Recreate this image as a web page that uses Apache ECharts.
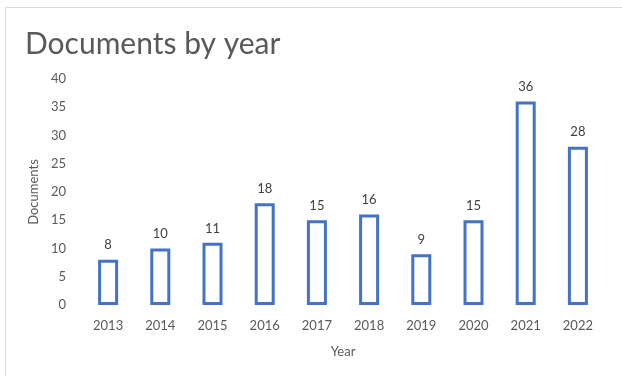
<!DOCTYPE html>
<html>
<head>
<meta charset="utf-8">
<script src="https://cdn.jsdelivr.net/npm/echarts@6/dist/echarts.min.js"></script>
<style>
    html, body { margin: 0; padding: 0; background: #fff; }
    #chart { width: 622px; height: 376px; }
</style>
</head>
<body>
<div id="chart"></div>
<script>
// data
const years = ["2013", "2014", "2015", "2016", "2017", "2018", "2019", "2020", "2021", "2022"];
const documents = [8, 10, 11, 18, 15, 16, 9, 15, 36, 28];

const font = "Lato, 'Open Sans', sans-serif";
const chart = echarts.init(document.getElementById("chart"));

const option = {
    backgroundColor: "#fff",
    animation: false,
    textStyle: { fontFamily: font },
    title: {
        text: "Documents by year",
        left: 20,
        top: 24,
        textStyle: { fontFamily: font, fontSize: 30, fontWeight: "normal", color: "#595959" }
    },
    graphic: [
        { type: "line", shape: { x1: 5.5, y1: 7.5, x2: 622, y2: 7.5 }, style: { stroke: "#d9d9d9", lineWidth: 1 } },
        { type: "line", shape: { x1: 5.5, y1: 7.5, x2: 5.5, y2: 376 }, style: { stroke: "#d9d9d9", lineWidth: 1 } }
    ],
    grid: { left: 82, right: 18, top: 79, bottom: 71 },
    xAxis: {
        type: "category",
        data: years,
        name: "Year",
        nameLocation: "middle",
        nameGap: 40,
        nameTextStyle: { fontSize: 13, color: "#595959", fontFamily: font },
        axisLine: { show: false },
        axisTick: { show: false },
        axisLabel: { fontSize: 13, color: "#595959", margin: 14, fontFamily: font }
    },
    yAxis: {
        type: "value",
        min: 0,
        max: 40,
        interval: 5,
        name: "Documents",
        nameLocation: "middle",
        nameGap: 39,
        nameRotate: 90,
        nameTextStyle: { fontSize: 13, color: "#595959", fontFamily: font },
        splitLine: { show: false },
        axisLine: { show: false },
        axisTick: { show: false },
        axisLabel: { fontSize: 13, color: "#595959", margin: 16, fontFamily: font }
    },
    series: [
        {
            type: "bar",
            data: documents,
            barWidth: 20,
            itemStyle: { color: "#fff", borderColor: "#4472C4", borderWidth: 3 },
            label: {
                show: true,
                position: "top",
                distance: 8,
                fontSize: 13,
                color: "#404040",
                fontFamily: font
            }
        }
    ]
};

chart.setOption(option);
window.addEventListener("resize", chart.resize);
</script>
</body>
</html>
